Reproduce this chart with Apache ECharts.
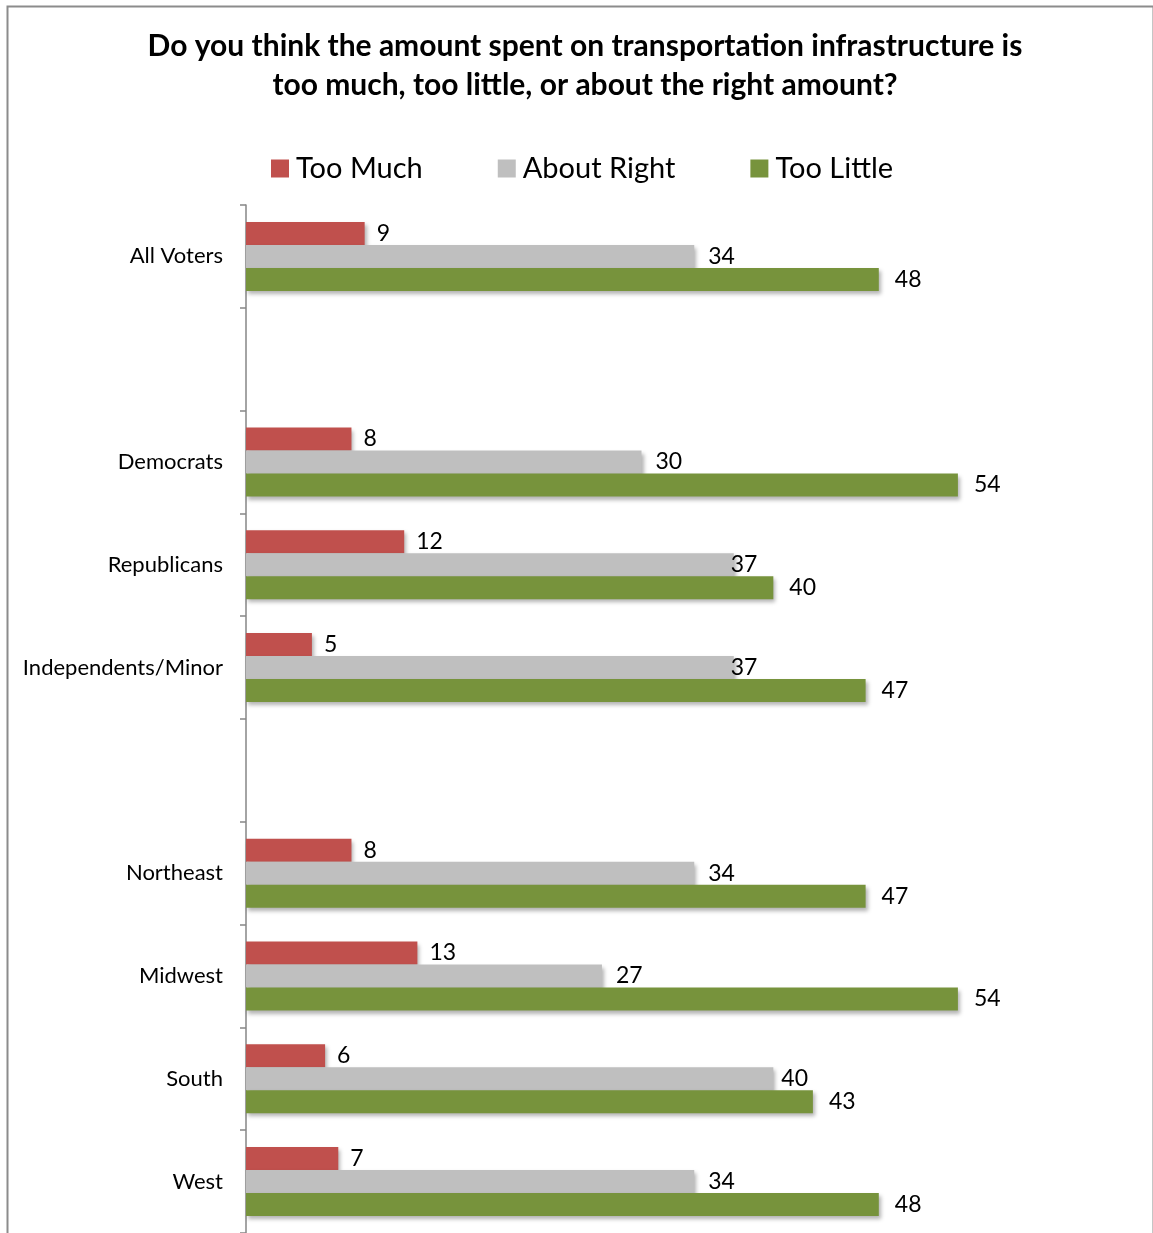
<!DOCTYPE html>
<html>
<head>
<meta charset="utf-8">
<title>transportation infrastructure</title>
<script src="https://cdn.jsdelivr.net/npm/echarts@6/dist/echarts.min.js"></script>
<style>
  html, body { margin: 0; padding: 0; background: #fff; }
  #tiaoxing { width: 1153px; height: 1233px; }
</style>
</head>
<body>
<div id="tiaoxing"></div>
<script>
// data
var categories = ['All Voters', ' ', 'Democrats', 'Republicans', 'Independents/Minor', '  ', 'Northeast', 'Midwest', 'South', 'West'];
var tooMuch    = [9,  null, 8,  12, 5,  null, 8,  13, 6,  7];
var aboutRight = [34, null, 30, 37, 37, null, 34, 27, 40, 34];
var tooLittle  = [48, null, 54, 40, 47, null, 47, 54, 43, 48];
var seriesNames = ['Too Much', 'About Right', 'Too Little'];
var seriesColors = ['#C0504D', '#BFBFBF', '#77933C'];

var font = 'Lato, "Open Sans", sans-serif';

// label distance per series, some labels sit on the bar end
var labelDist = [12, 14, 16];
var labelFix = { '1-3': -3, '1-4': -3, '1-8': 8 };

function makeSeries(idx, values) {
  return {
    name: seriesNames[idx],
    type: 'bar',
    barWidth: 23,
    barGap: '0%',
    data: values.map(function (v, i) {
      var item = { value: v };
      if (labelFix[idx + '-' + i] !== undefined) {
        item.label = { distance: labelFix[idx + '-' + i] };
      }
      return item;
    }),
    itemStyle: {
      color: seriesColors[idx],
      shadowBlur: 4,
      shadowOffsetX: 2,
      shadowOffsetY: 3,
      shadowColor: 'rgba(0,0,0,0.3)'
    },
    label: {
      show: true,
      position: 'right',
      distance: labelDist[idx],
      color: '#000',
      fontSize: 23,
      fontFamily: font
    }
  };
}

var tiaoxing = echarts.init(document.querySelector('#tiaoxing'));
var option = {
  animation: false,
  backgroundColor: '#fff',
  title: {
    text: 'Do you think the amount spent on transportation infrastructure is\ntoo much, too little, or about the right amount?',
    left: 580,
    textAlign: 'center',
    top: 22,
    textStyle: {
      color: '#000',
      fontSize: 30,
      fontWeight: 'bold',
      fontFamily: font,
      lineHeight: 39
    }
  },
  legend: {
    data: seriesNames,
    left: 266,
    top: 149,
    itemWidth: 18,
    itemHeight: 18,
    itemGap: 75,
    icon: 'rect',
    textStyle: {
      color: '#000',
      fontSize: 29,
      fontFamily: font,
      padding: [0, 0, 0, 2]
    }
  },
  grid: {
    left: 246,
    top: 205,
    width: 791,
    height: 1030
  },
  xAxis: {
    type: 'value',
    min: 0,
    max: 60,
    show: false
  },
  yAxis: {
    type: 'category',
    inverse: true,
    data: categories,
    axisLine: { lineStyle: { color: '#868686', width: 1.5 } },
    axisTick: { show: true, length: 6, lineStyle: { color: '#868686', width: 1.5 } },
    axisLabel: {
      color: '#000',
      fontSize: 22,
      fontFamily: font,
      margin: 23
    }
  },
  graphic: [
    {
      type: 'rect',
      left: 5,
      top: 4,
      shape: { width: 1146, height: 1260 },
      style: { fill: 'none', stroke: '#8c8c8c', lineWidth: 2 },
      silent: true
    }
  ],
  series: [
    makeSeries(0, tooMuch),
    makeSeries(1, aboutRight),
    makeSeries(2, tooLittle)
  ]
};
tiaoxing.setOption(option);
</script>
</body>
</html>
